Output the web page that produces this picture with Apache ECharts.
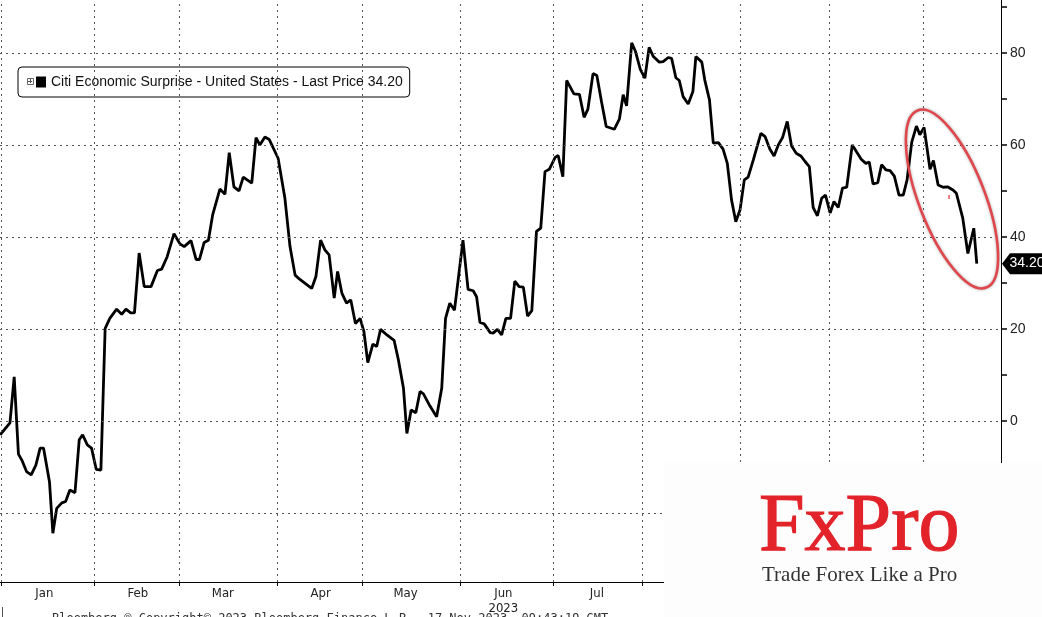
<!DOCTYPE html>
<html><head><meta charset="utf-8">
<script src="https://cdn.jsdelivr.net/npm/echarts@6/dist/echarts.min.js"></script>
<style>html,body{margin:0;padding:0;background:#fff}#c{width:1042px;height:617px}</style>
</head><body><div id="c"></div>
<script>
const seriesName = 'Citi Economic Surprise - United States - Last Price 34.20';
// business-day index (0 = 2 Jan 2023)
const days = [-0.2,2.1,3.1,4.1,4.9,6.0,7.1,8.2,9.2,10.0,11.4,12.2,13.1,14.3,15.2,16.2,17.4,18.4,19.2,20.3,21.3,22.4,23.5,
24.5,25.6,27.2,28.4,29.4,30.5,31.4,32.5,33.7,35.3,36.8,37.8,39.1,40.7,42.1,43.1,44.7,45.9,46.7,47.8,48.8,49.8,51.5,52.7,53.7,54.8,56.0,57.0,59.0,
60.0,60.9,62.1,63.1,65.2,66.8,68.0,69.2,70.4,73.1,74.1,75.2,76.2,77.2,78.4,79.2,80.2,81.3,82.3,83.4,84.5,85.4,86.3,87.5,88.4,89.3,90.8,92.5,93.5,
94.7,95.5,96.5,97.6,98.6,99.4,100.9,102.5,103.7,104.6,105.6,106.7,108.7,109.9,111.1,111.9,112.7,113.7,115.1,115.8,116.8,117.8,118.8,119.9,120.9,
121.9,122.9,123.9,124.9,126.0,127.0,128.0,129.0,130.4,131.1,132.2,133.1,134.8,136.1,137.2,138.1,139.3,140.2,141.3,142.4,144.3,145.5,146.4,147.2,
148.4,149.3,150.4,151.5,152.5,153.5,154.9,155.8,157.0,157.8,158.8,159.6,160.5,161.7,162.8,163.5,164.9,165.6,166.7,167.6,168.8,169.9,170.9,171.9,
172.9,173.9,174.9,175.8,177.0,178.8,179.8,180.9,181.9,182.9,183.9,185.0,186.0,187.1,188.2,189.2,190.2,191.1,192.1,193.1,194.0,195.1,196.0,197.0,
198.0,199.0,200.3,201.3,202.4,203.5,204.3,205.2,206.3,207.2,208.2,209.2,210.2,211.3,212.3,213.2,214.3,215.4,216.2,217.2,218.6,219.4,220.5,221.7,
222.7,224.0,224.8,226.3,227.5,228.9,229.6];
const surprise = [-3.0,-0.4,9.6,-7.2,-8.5,-11.0,-11.7,-9.6,-5.9,-5.9,-13.2,-24.4,-19.0,-17.8,-17.5,-15.0,-15.6,-4.1,-3.0,-5.2,-5.9,-10.5,-10.7,
20.1,22.3,24.3,23.2,24.3,23.5,23.5,36.5,29.2,29.2,32.7,33.0,35.7,40.7,38.5,37.9,39.2,35.1,35.1,38.8,39.3,44.8,50.4,49.3,58.3,50.9,50.0,53.0,51.7,
61.6,60.0,61.7,61.2,57.1,48.4,37.9,31.7,30.7,28.8,31.4,39.3,37.2,36.1,26.7,32.5,27.8,25.6,26.3,21.2,22.3,19.4,12.7,16.7,16.2,19.9,18.7,17.5,13.3,
7.1,-2.7,2.4,1.8,6.4,5.9,3.3,0.9,7.1,22.3,25.6,24.1,39.3,28.6,28.3,27.0,21.4,21.1,19.2,19.1,19.9,18.7,22.3,22.3,30.4,
29.2,29.1,22.8,24.0,41.2,41.9,54.2,54.7,57.3,57.7,53.1,74.0,71.1,71.0,66.0,67.8,75.5,75.1,69.4,64.0,63.4,65.6,70.9,68.5,
82.2,80.3,76.5,74.5,81.2,79.2,78.0,78.1,79.0,78.8,74.6,74.0,70.5,68.9,71.6,79.2,78.0,74.1,69.8,60.4,60.5,59.1,56.0,48.0,
43.3,45.9,52.4,53.0,56.7,62.5,61.8,59.1,57.6,60.0,61.6,65.1,59.8,58.2,57.6,56.4,55.3,46.4,44.6,48.4,49.1,45.2,47.7,46.4,
50.6,50.8,60.0,58.5,56.9,56.0,56.3,51.5,51.8,55.7,54.6,54.4,53.2,49.1,49.1,52.4,60.6,64.1,62.2,63.8,54.7,56.6,51.3,50.8,
50.9,50.2,49.5,44.1,36.4,41.9,34.2];
const monthNames = ['Jan','Feb','Mar','Apr','May','Jun','Jul','Aug','Sep','Oct','Nov'];
const monthStarts = [0,22,42,65,85,108,130,151,174,195,217];
const yearLabel = '2023';
const yLabels = [-20,0,20,40,60,80];
const yTicks = [-30,-20,-10,0,10,20,30,40,50,60,70,80,90];
const lastPrice = 34.20;

const data = days.map((d, i) => [d, surprise[i]]);
const labelPos = monthStarts.map(s => s + 10.2);
const XMIN = -0.24, XMAX = 235.3;

const chart = echarts.init(document.getElementById('c'), null, {renderer: 'canvas'});
const gridStyle = {color: '#555', type: [2, 4], width: 1};
chart.setOption({
  animation: false,
  backgroundColor: '#fff',
  grid: {left: 0, right: 41, top: 0, bottom: 35, containLabel: false},
  legend: {
    data: [{name: seriesName, icon: 'rect'}],
    left: 18, top: 67, itemWidth: 10, itemHeight: 11,
    padding: [8, 7, 8, 18],
    backgroundColor: '#fff', borderColor: '#000', borderWidth: 1, borderRadius: 4,
    selectedMode: false,
    textStyle: {fontSize: 14, color: '#111', fontFamily: '"Liberation Sans", Arial, sans-serif'}
  },
  xAxis: {
    type: 'value', min: XMIN, max: XMAX,
    axisLine: {show: true, onZero: false, lineStyle: {color: '#000', width: 1}},
    axisTick: {show: true, customValues: monthStarts, length: 4, lineStyle: {color: '#000'}},
    axisLabel: {
      customValues: labelPos, margin: 4, color: '#222', fontSize: 13, lineHeight: 15,
      fontFamily: '"Liberation Sans Narrow", "DejaVu Sans Condensed", "Liberation Sans", Arial, sans-serif',
      formatter: v => {
        const i = labelPos.findIndex(p => Math.abs(p - v) < 0.01);
        if (i < 0) return '';
        return monthNames[i] === 'Jun' ? 'Jun\n' + yearLabel : monthNames[i];
      }
    },
    splitLine: {show: false}
  },
  yAxis: {
    type: 'value', position: 'right', min: -35, max: 91.5,
    axisLine: {show: true, onZero: false, lineStyle: {color: '#000', width: 1}},
    axisTick: {show: true, customValues: yTicks, length: 6, lineStyle: {color: '#000', width: 1.5}},
    axisLabel: {customValues: yLabels, margin: 9, color: '#222', fontSize: 14,
      fontFamily: '"Liberation Sans", Arial, sans-serif'},
    splitLine: {show: false}
  },
  series: [{
    name: seriesName, type: 'line', data: data, showSymbol: false, symbol: 'none',
    lineStyle: {color: '#000', width: 2.8}, itemStyle: {color: '#000'},
    clip: false,
    markLine: {
      silent: true, symbol: ['none', 'none'], label: {show: false}, lineStyle: gridStyle,
      emphasis: {disabled: true},
      data: monthStarts.map(v => ({xAxis: v})).concat(yLabels.map(v => ({yAxis: v})))
    },
    markPoint: {
      silent: true,
      data: [{coord: [XMAX, lastPrice]}],
      symbol: 'path://M0,10.5 L8,0 L40,0 L40,21 L8,21 Z',
      symbolSize: [40, 21], symbolOffset: [21, 0],
      itemStyle: {color: '#000'},
      label: {show: true, formatter: lastPrice.toFixed(2), color: '#fff', fontSize: 14,
        fontFamily: '"Liberation Sans", Arial, sans-serif', offset: [5, 0]}
    }
  }],
  graphic: [
    {type: 'rect', left: 27, top: 78, z: 120, shape: {width: 6, height: 6},
      style: {fill: '#fff', stroke: '#666', lineWidth: 1}},
    {type: 'line', z: 121, shape: {x1: 28, y1: 81.5, x2: 32, y2: 81.5}, style: {stroke: '#555', lineWidth: 1}},
    {type: 'line', z: 121, shape: {x1: 30.5, y1: 79, x2: 30.5, y2: 83}, style: {stroke: '#555', lineWidth: 1}},
    {type: 'ellipse', z: 110, x: 952, y: 199, rotation: 0.37,
      shape: {cx: 0, cy: 0, rx: 33, ry: 95},
      style: {fill: 'none', stroke: '#e0474c', lineWidth: 2.6, shadowBlur: 3, shadowColor: 'rgba(0,0,0,0.35)'}},
    {type: 'rect', z: 110, shape: {x: 948, y: 195, width: 2, height: 4}, style: {fill: '#f08080'}},
    {type: 'rect', z: 130, shape: {x: 664, y: 463, width: 378, height: 154}, style: {fill: '#fdfdfd'}},
    {type: 'text', z: 131, x: 759, y: 528, style: {text: 'FxPro', fill: '#e2232a', stroke: '#e2232a', lineWidth: 1.2,
      fontSize: 82, fontFamily: '"Liberation Serif", "Times New Roman", serif', verticalAlign: 'middle', align: 'left'}},
    {type: 'text', z: 131, x: 762, y: 575, style: {text: 'Trade Forex Like a Pro', fill: '#333', fontSize: 21,
      fontFamily: '"Liberation Serif", "Times New Roman", serif', verticalAlign: 'middle', align: 'left'}},
    {type: 'text', z: 50, x: 52, y: 613, style: {text: 'Bloomberg \u00ae Copyright\u00a9 2023 Bloomberg Finance L.P.  17-Nov-2023  09:43:19 GMT',
      fill: '#333', fontSize: 12, fontFamily: '"DejaVu Sans Mono", monospace', verticalAlign: 'top'}},
    {type: 'line', z: 50, shape: {x1: 2.5, y1: 607, x2: 2.5, y2: 617}, style: {stroke: '#555', lineWidth: 1}}
  ]
});
</script>
</body></html>
